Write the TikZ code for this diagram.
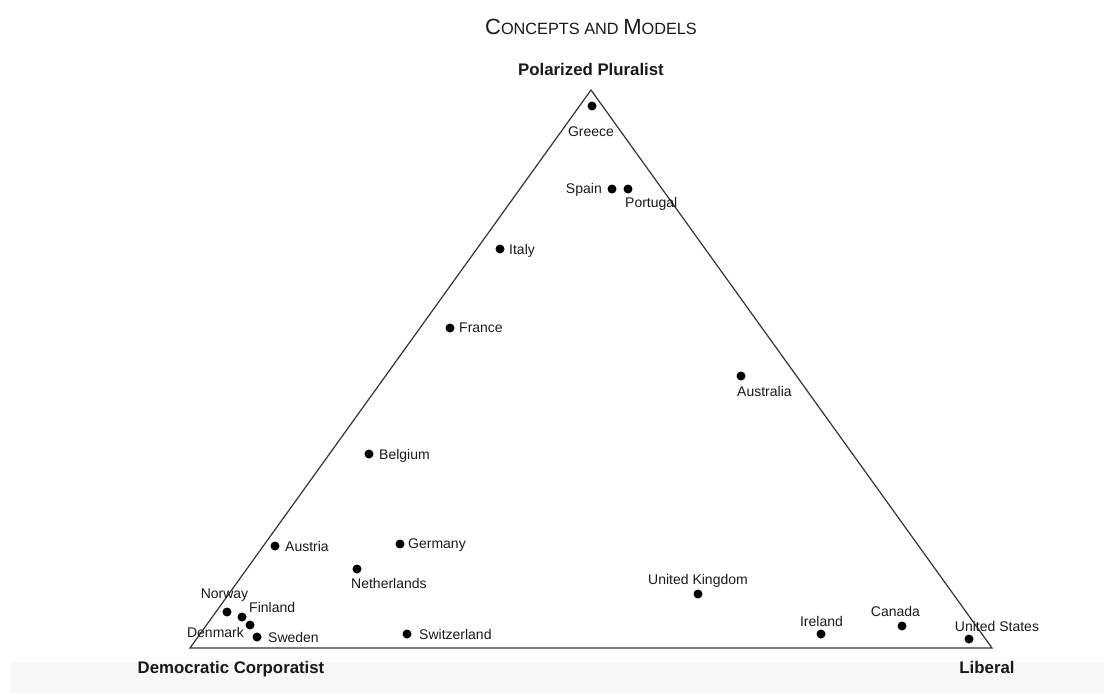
\documentclass[tikz,border=0pt]{standalone}
\usepackage{fontspec}
\setmainfont{Liberation Sans}
\definecolor{bandgray}{HTML}{F7F7F7}
\definecolor{linegray}{HTML}{333333}
\begin{document}
\begin{tikzpicture}[x=1pt,y=-1pt,
  country/.style={circle,fill=black,inner sep=0pt,minimum size=9pt},
  clabel/.style={inner sep=0pt,font=\fontsize{14}{16}\selectfont,text=black!90},
  vlabel/.style={inner sep=0pt,font=\fontsize{16.8}{19}\selectfont\bfseries,text=black!90},
  edge/.style={draw=linegray,line width=1.2pt}]
\useasboundingbox (0,0) rectangle (1104,693);
\fill[bandgray] (11,662) rectangle (1104,693);
% title
\node[inner sep=0pt,anchor=base,text=black!90] (title) at (591,35)
  {\fontsize{22}{24}\selectfont C\fontsize{16.3}{18}\selectfont ONCEPTS AND \fontsize{22}{24}\selectfont M\fontsize{16.3}{18}\selectfont ODELS};
% vertices
\coordinate (top) at (591,90);
\coordinate (bl) at (190,648);
\coordinate (br) at (992,648);
\draw[edge,line join=miter] (top) -- (bl) -- (br) -- cycle;
\node[vlabel,anchor=base] (pp) at (591,76) {Polarized Pluralist};
\node[vlabel,anchor=base] (dc) at (231,673) {Democratic Corporatist};
\node[vlabel,anchor=base] (lib) at (987,673) {Liberal};
% countries
\node[country] (greece) at (592,106) {};
\node[clabel,anchor=base] (greecel) at (591,136) {Greece};
\node[country] (spain) at (612,189) {};
\node[clabel,anchor=base east] (spainl) at (602,193) {Spain};
\node[country] (portugal) at (628,189) {};
\node[clabel,anchor=base west] (portugall) at (625,207) {Portugal};
\node[country] (italy) at (500,249) {};
\node[clabel,anchor=base west] (italyl) at (509,254) {Italy};
\node[country] (france) at (450,328) {};
\node[clabel,anchor=base west] (francel) at (459,332) {France};
\node[country] (australia) at (741,376) {};
\node[clabel,anchor=base west] (australial) at (737,396) {Australia};
\node[country] (belgium) at (369,454) {};
\node[clabel,anchor=base west] (belgiuml) at (379,459) {Belgium};
\node[country] (austria) at (275,546) {};
\node[clabel,anchor=base west] (austrial) at (285,551) {Austria};
\node[country] (germany) at (400,544) {};
\node[clabel,anchor=base west] (germanyl) at (408,548) {Germany};
\node[country] (netherlands) at (357,569) {};
\node[clabel,anchor=base west] (netherlandsl) at (351,588) {Netherlands};
\node[country] (uk) at (698,594) {};
\node[clabel,anchor=base] (ukl) at (698,584) {United Kingdom};
\node[country] (norway) at (227,612) {};
\node[clabel,anchor=base] (norwayl) at (224.5,598) {Norway};
\node[country] (finland) at (242,617) {};
\node[clabel,anchor=base west] (finlandl) at (249,612) {Finland};
\node[country] (denmark) at (250,625) {};
\node[clabel,anchor=base] (denmarkl) at (215.5,637) {Denmark};
\node[country] (sweden) at (257,637) {};
\node[clabel,anchor=base west] (swedenl) at (268,642) {Sweden};
\node[country] (switzerland) at (407,634) {};
\node[clabel,anchor=base west] (switzerlandl) at (419,639) {Switzerland};
\node[country] (ireland) at (821,634) {};
\node[clabel,anchor=base] (irelandl) at (821.5,626) {Ireland};
\node[country] (canada) at (902,626) {};
\node[clabel,anchor=base] (canadal) at (895.5,616) {Canada};
\node[country] (us) at (969,639) {};
\node[clabel,anchor=base] (usl) at (997,631) {United States};
\end{tikzpicture}
\end{document}
